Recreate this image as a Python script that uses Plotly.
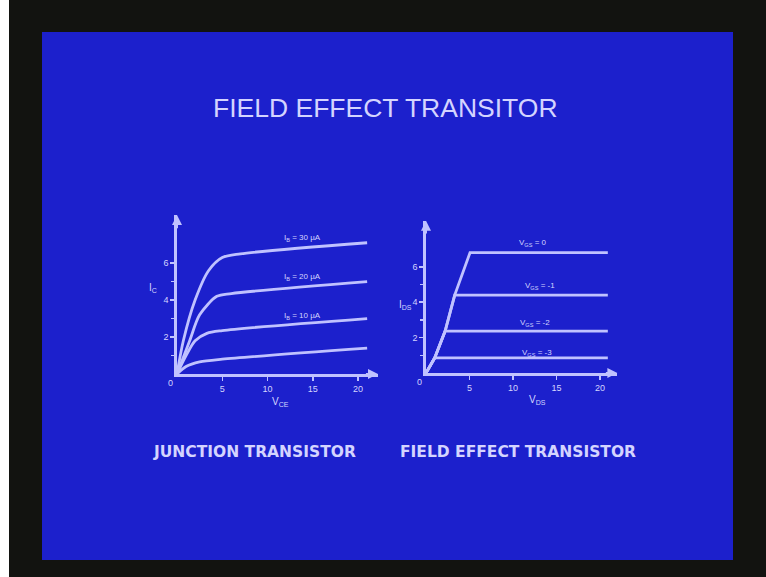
import plotly.graph_objects as go

# ---- data ----
# Junction transistor: collector current I_C vs V_CE for several base currents
jt_labels = ["I<sub>B</sub> = 30 µA", "I<sub>B</sub> = 20 µA", "I<sub>B</sub> = 10 µA", ""]
jt_x = [
    [0, 0.7, 2.0, 3.5, 5.0, 7.0, 21.0],
    [0, 1.4, 2.5, 4.4, 6.0, 21.0],
    [0, 1.0, 2.0, 3.3, 5.0, 21.0],
    [0, 1.0, 2.5, 5.0, 21.0],
]
jt_y = [
    [0, 1.8, 4.0, 5.6, 6.3, 6.5, 7.1],
    [0, 1.8, 3.2, 4.2, 4.35, 5.0],
    [0, 1.0, 1.8, 2.2, 2.35, 3.0],
    [0, 0.4, 0.65, 0.8, 1.4],
]
jt_label_pos = [(13.9, 7.35), (13.9, 5.24), (13.9, 3.14)]

# Field effect transistor: drain current I_DS vs V_DS for several gate voltages
fet_labels = ["V<sub>GS</sub> = 0", "V<sub>GS</sub> = -1", "V<sub>GS</sub> = -2", "V<sub>GS</sub> = -3"]
fet_knee_x = [5.06, 3.3, 2.2, 1.0]
fet_level = [6.8, 4.4, 2.37, 0.85]
fet_end_x = 20.9
fet_label_pos = [(12.3, 7.34), (13.1, 4.9), (12.5, 2.82), (12.8, 1.13)]

x_ticks = [5, 10, 15, 20]
y_ticks = [2, 4, 6]
y_minor = [1, 3, 5]

title_text = "FIELD EFFECT TRANSITOR"
left_caption = "JUNCTION TRANSISTOR"
right_caption = "FIELD EFFECT TRANSISTOR"

# ---- styling ----
BLUE = "#1c20cc"
BLACK = "#121310"
LINE = "#c0c2ff"
TEXT = "#d4d4ff"
W, H = 766, 577

fig = go.Figure()

for xs, ys in zip(jt_x, jt_y):
    fig.add_trace(go.Scatter(x=xs, y=ys, mode="lines", line=dict(color=LINE, width=2.8, shape="spline", smoothing=0.8),
                             cliponaxis=False, hoverinfo="skip", showlegend=False, xaxis="x", yaxis="y"))

for k in range(len(fet_labels)):
    knees = sorted([(kx, lv) for kx, lv in zip(fet_knee_x, fet_level) if kx <= fet_knee_x[k]])
    xs = [0] + [p[0] for p in knees] + [fet_end_x]
    ys = [0] + [p[1] for p in knees] + [fet_level[k]]
    fig.add_trace(go.Scatter(x=xs, y=ys, mode="lines", line=dict(color=LINE, width=2.8),
                             cliponaxis=False, hoverinfo="skip", showlegend=False, xaxis="x2", yaxis="y2"))

ax_common = dict(showgrid=False, zeroline=False, showline=True, linecolor=LINE, linewidth=2.8,
                 ticks="outside", ticklen=4, tickwidth=1.5, tickcolor=LINE,
                 tickfont=dict(family="Liberation Sans", size=9, color=TEXT), fixedrange=True)

fig.update_layout(
    width=W, height=H, margin=dict(l=0, r=0, t=0, b=0),
    paper_bgcolor=BLACK, plot_bgcolor="rgba(0,0,0,0)",
    xaxis=dict(domain=[177 / W, 378 / W], range=[0, 22.2], tickvals=x_ticks, anchor="y", **ax_common),
    yaxis=dict(domain=[(H - 374) / H, (H - 215) / H], range=[0, 8.6], tickvals=y_ticks,
               minor=dict(tickvals=y_minor, ticks="outside", ticklen=3, tickcolor=LINE), anchor="x", **ax_common),
    xaxis2=dict(domain=[426 / W, 617.4 / W], range=[0, 22.0], tickvals=x_ticks, anchor="y2", **ax_common),
    yaxis2=dict(domain=[(H - 373) / H, (H - 220.8) / H], range=[0, 8.6], tickvals=y_ticks,
                minor=dict(tickvals=y_minor, ticks="outside", ticklen=3, tickcolor=LINE), anchor="x2", **ax_common),
)

shapes = [
    dict(type="rect", xref="paper", yref="paper", x0=0, x1=9 / W, y0=0, y1=1, fillcolor="white", line_width=0, layer="below"),
    dict(type="rect", xref="paper", yref="paper", x0=42 / W, x1=733 / W, y0=(H - 560) / H, y1=(H - 32) / H,
         fillcolor=BLUE, line_width=0, layer="below"),
]
fig.update_layout(shapes=shapes)

ann = []
def paper_text(text, px, py, size, family="Liberation Sans", color=TEXT):
    ann.append(dict(text=text, x=px / W, y=(H - py) / H, xref="paper", yref="paper", showarrow=False,
                    xanchor="center", yanchor="middle", font=dict(family=family, size=size, color=color)))

paper_text(title_text, 385, 108, 26.5)
paper_text("<b>" + left_caption + "</b>", 254, 452, 15.5, family="DejaVu Sans")
paper_text("<b>" + right_caption + "</b>", 518, 452, 15.5, family="DejaVu Sans")
paper_text("I<sub>C</sub>", 153, 288, 10)
paper_text("V<sub>CE</sub>", 280, 402, 10)
paper_text("I<sub>DS</sub>", 405, 305, 10)
paper_text("V<sub>DS</sub>", 537, 400, 10)

for lab, (lx, ly) in zip(jt_labels, jt_label_pos):
    ann.append(dict(text=lab, x=lx, y=ly, xref="x", yref="y", showarrow=False,
                    font=dict(family="Liberation Sans", size=8, color=TEXT)))
for lab, (lx, ly) in zip(fet_labels, fet_label_pos):
    ann.append(dict(text=lab, x=lx, y=ly, xref="x2", yref="y2", showarrow=False,
                    font=dict(family="Liberation Sans", size=8, color=TEXT)))

for xr, yr in (("x", "y"), ("x2", "y2")):
    ann.append(dict(text="0", x=0, y=0, xref=xr, yref=yr, showarrow=False, xshift=-7, yshift=-9,
                    font=dict(family="Liberation Sans", size=9, color=TEXT)))

for xr, yr, xmax, ymax in (("x", "y", 22.2, 8.6), ("x2", "y2", 22.0, 8.6)):
    ann.append(dict(x=xmax, y=0, ax=xmax - 1.5, ay=0, xref=xr, yref=yr, axref=xr, ayref=yr, text="",
                    showarrow=True, arrowhead=2, arrowsize=1, arrowwidth=2, arrowcolor=LINE))
    ann.append(dict(x=0, y=ymax, ax=0, ay=ymax - 0.8, xref=xr, yref=yr, axref=xr, ayref=yr, text="",
                    showarrow=True, arrowhead=2, arrowsize=1, arrowwidth=2, arrowcolor=LINE))

fig.update_layout(annotations=ann)
fig.write_html("out.html", config={"displayModeBar": False, "staticPlot": True},
               post_script="document.body.style.margin='0';document.body.style.overflow='hidden';")
